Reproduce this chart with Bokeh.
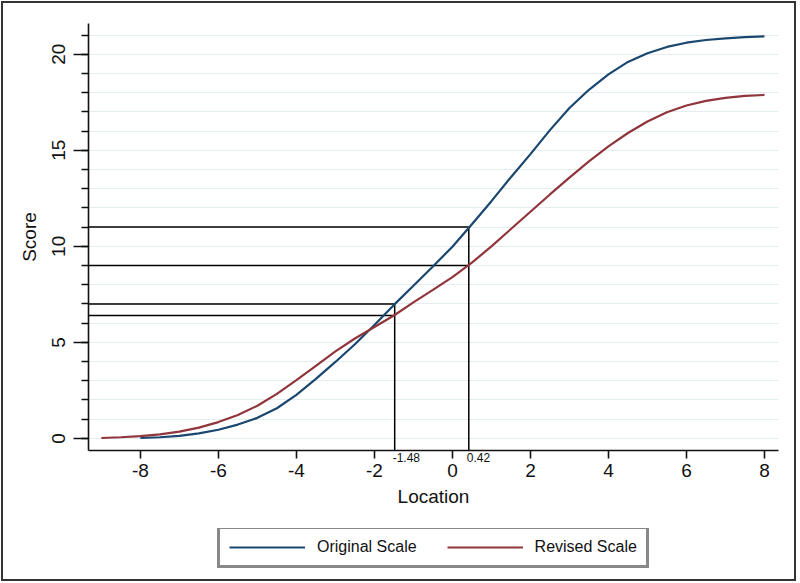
from bokeh.plotting import figure
from bokeh.models import (Range1d, Legend, LegendItem, Label, FixedTicker)
from bokeh.layouts import column
from bokeh.embed import file_html
from bokeh.resources import INLINE

# ---- data ----
location_original = [-8, -7.5, -7, -6.5, -6, -5.5, -5, -4.5, -4, -3.5, -3, -2.5, -2,
                     -1.5, -1, -0.5, 0, 0.5, 1, 1.5, 2, 2.5, 3, 3.5, 4, 4.5, 5,
                     5.5, 6, 6.5, 7, 7.5, 8]
score_original = [0.02, 0.06, 0.13, 0.26, 0.45, 0.72, 1.07, 1.57, 2.27, 3.1, 3.98, 4.9,
                  5.9, 6.95, 7.95, 8.95, 9.98, 11.15, 12.35, 13.6, 14.8, 16.05, 17.2,
                  18.15, 18.95, 19.6, 20.05, 20.38, 20.6, 20.74, 20.83, 20.89, 20.93]

location_revised = [-9, -8.5, -8, -7.5, -7, -6.5, -6, -5.5, -5, -4.5, -4, -3.5, -3,
                    -2.5, -2, -1.5, -1, -0.5, 0, 0.5, 1, 1.5, 2, 2.5, 3, 3.5, 4,
                    4.5, 5, 5.5, 6, 6.5, 7, 7.5, 8]
score_revised = [0.02, 0.06, 0.12, 0.21, 0.35, 0.56, 0.85, 1.22, 1.7, 2.32, 3.03, 3.78,
                 4.53, 5.2, 5.8, 6.4, 7.08, 7.73, 8.4, 9.15, 10.0, 10.9, 11.8, 12.7,
                 13.58, 14.42, 15.2, 15.9, 16.5, 16.98, 17.33, 17.57, 17.73, 17.83, 17.88]

cut_locations = [-1.48, 0.42]
cut_labels = ["-1.48", "0.42"]
original_at_cut = [7.0, 11.0]
revised_at_cut = [6.4, 9.0]

x_ticks = [-8, -6, -4, -2, 0, 2, 4, 6, 8]
y_ticks = [0, 5, 10, 15, 20]
y_minor = list(range(0, 22))

series_names = ["Original Scale", "Revised Scale"]
BLUE = "#1a476f"
RED = "#90353b"
FONT = "Liberation Sans"

X0, X1 = -9.33, 8.36
Y0, Y1 = -0.63, 21.6

p = figure(width=798, height=528, output_backend="svg", toolbar_location=None,
           x_range=Range1d(X0, X1), y_range=Range1d(Y0, Y1),
           min_border_left=88, min_border_right=20, min_border_top=23,
           min_border_bottom=78)
p.outline_line_color = None
p.background_fill_color = "white"
p.border_fill_color = "white"

# grid
p.xgrid.visible = False
p.ygrid.ticker = FixedTicker(ticks=y_minor)
p.ygrid.grid_line_color = "#e4edf0"
p.ygrid.grid_line_width = 1

# axes
p.xaxis.ticker = FixedTicker(ticks=x_ticks)
p.yaxis.ticker = FixedTicker(ticks=y_ticks, minor_ticks=y_minor)
p.xaxis.major_label_overrides = {t: str(t) for t in x_ticks}
for ax in (p.xaxis[0], p.yaxis[0]):
    ax.axis_line_color = "#111111"
    ax.axis_line_width = 1.6
    ax.major_tick_line_color = "#111111"
    ax.major_tick_line_width = 1.6
    ax.major_tick_in = 0
    ax.major_label_text_font = FONT
    ax.major_label_text_font_size = "19px"
    ax.major_label_text_color = "#111111"
    ax.axis_label_text_font = FONT
    ax.axis_label_text_font_size = "19px"
    ax.axis_label_text_font_style = "normal"
    ax.axis_label_text_color = "#111111"

p.xaxis.axis_label = "Location"
p.xaxis.major_tick_out = 8
p.xaxis.minor_tick_line_color = None
p.xaxis.major_label_standoff = 5
p.xaxis.axis_label_standoff = 6

p.yaxis.axis_label = "Score"
p.yaxis.major_tick_out = 15
p.yaxis.minor_tick_out = 7
p.yaxis.minor_tick_in = 0
p.yaxis.minor_tick_line_color = "#111111"
p.yaxis.minor_tick_line_width = 1.6
p.yaxis.major_label_orientation = "vertical"
p.yaxis.major_label_standoff = 8
p.yaxis.axis_label_standoff = 10

# reference lines
for cx, yo, yr in zip(cut_locations, original_at_cut, revised_at_cut):
    p.segment(x0=[X0, X0], y0=[yo, yr], x1=[cx, cx], y1=[yo, yr],
              line_color="black", line_width=1.5)
    p.segment(x0=[cx], y0=[Y0], x1=[cx], y1=[yo], line_color="black", line_width=1.5)

r1 = p.line(location_original, score_original, line_color=BLUE, line_width=2.2)
r2 = p.line(location_revised, score_revised, line_color=RED, line_width=2.2)

# labels of the cut points (side panels keep them unclipped)
for cx, txt, side in zip(cut_locations, cut_labels, ["above", "below"]):
    p.add_layout(Label(x=cx, y=Y0, text=txt, text_font=FONT, text_font_size="12px",
                       text_align="left", text_baseline="top", x_offset=-2,
                       y_offset=-2, text_color="#111111"), side)

# ---- legend strip (same series, drawn outside its visible ranges) ----
q = figure(width=798, height=54, output_backend="svg", toolbar_location=None,
           x_axis_location=None, y_axis_location=None,
           x_range=Range1d(20, 21), y_range=Range1d(40, 41),
           min_border_left=0, min_border_right=0, min_border_top=0,
           min_border_bottom=0)
q.outline_line_color = None
q.grid.visible = False
q.background_fill_color = "white"
q.border_fill_color = "white"
k1 = q.line(location_original, score_original, line_color=BLUE, line_width=2.2)
k2 = q.line(location_revised, score_revised, line_color=RED, line_width=2.2)

legend = Legend(items=[LegendItem(label=series_names[0], renderers=[k1]),
                       LegendItem(label=series_names[1], renderers=[k2])],
                orientation="horizontal", location=(129, 14))
legend.label_text_font = FONT
legend.label_text_font_size = "16px"
legend.label_text_color = "#111111"
legend.glyph_width = 76
legend.glyph_height = 16
legend.label_height = 16
legend.label_standoff = 12
legend.spacing = 30
legend.padding = 9
legend.margin = 0
legend.border_line_color = "#111111"
legend.border_line_width = 3
legend.background_fill_color = "white"
q.add_layout(legend)

layout = column(p, q, spacing=0)

page_frame = ("{% block preamble %}<style>body::after{content:'';position:fixed;"
              "left:1px;top:1px;width:795px;height:580px;border:2px solid #333;"
              "box-sizing:border-box;pointer-events:none;z-index:1000;}</style>"
              "{% endblock %}")

open("out.html", "w").write(file_html(layout, INLINE, template=page_frame))
